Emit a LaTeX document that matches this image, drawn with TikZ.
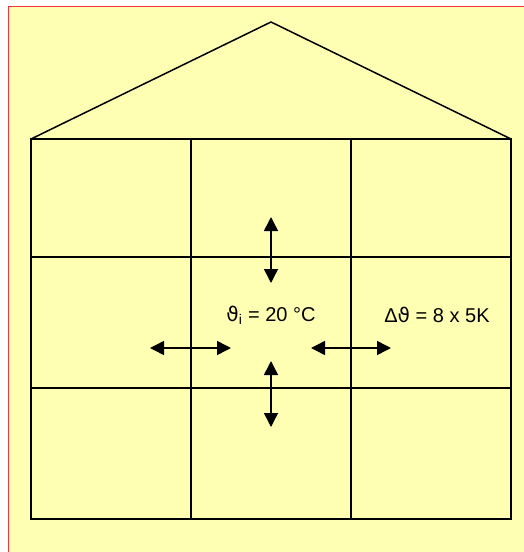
\documentclass[tikz,border=0pt]{standalone}
\usepackage{fontspec}
\setmainfont{Liberation Sans}
\newfontfamily\greekfont{DejaVu Sans}
\usetikzlibrary{arrows.meta}
\definecolor{bgyellow}{RGB}{255,255,180}
\definecolor{frame}{RGB}{250,50,60}
\begin{document}
\begin{tikzpicture}[x=1pt,y=-1pt,
  wall/.style={line width=1.5pt, black},
  flow/.style={line width=1.5pt, {Triangle[length=14pt,width=14pt]}-{Triangle[length=14pt,width=14pt]}},
  label/.style={font=\fontsize{20}{22}\selectfont, inner sep=0pt}]
\useasboundingbox (0,0) rectangle (524,552);
\fill[white] (0,0) rectangle (524,552);
\fill[bgyellow] (8.5,6.5) rectangle (524,552);
\draw[frame, line width=1.8pt] (8.5,552) -- (8.5,6.5) -- (524,6.5);
% house
\coordinate (A) at (31,139);
\coordinate (B) at (511,139);
\coordinate (C) at (511,519);
\coordinate (D) at (31,519);
\coordinate (R) at (271,22);
\draw[wall, line join=miter] (A) -- (R) -- (B);
\draw[wall] (A) rectangle (C);
\coordinate (v1t) at (191,139); \coordinate (v1b) at (191,519);
\coordinate (v2t) at (351,139); \coordinate (v2b) at (351,519);
\coordinate (h1l) at (31,257); \coordinate (h1r) at (511,257);
\coordinate (h2l) at (31,388); \coordinate (h2r) at (511,388);
\draw[wall] (v1t) -- (v1b);
\draw[wall] (v2t) -- (v2b);
\draw[wall] (h1l) -- (h1r);
\draw[wall] (h2l) -- (h2r);
% arrows
\coordinate (ua) at (271,217); \coordinate (ub) at (271,283);
\coordinate (da) at (271,361); \coordinate (db) at (271,427);
\coordinate (la) at (150,348); \coordinate (lb) at (231,348);
\coordinate (ra) at (311,348); \coordinate (rb) at (391,348);
\draw[flow] (ua) -- (ub);
\draw[flow] (da) -- (db);
\draw[flow] (la) -- (lb);
\draw[flow] (ra) -- (rb);
% labels
\node[label] (ti) at (271,315) {{\greekfont ϑ}\textsubscript{i} = 20 °C};
\node[label] (dt) at (437,315) {Δ{\greekfont ϑ} = 8 x 5K};
\end{tikzpicture}
\end{document}
